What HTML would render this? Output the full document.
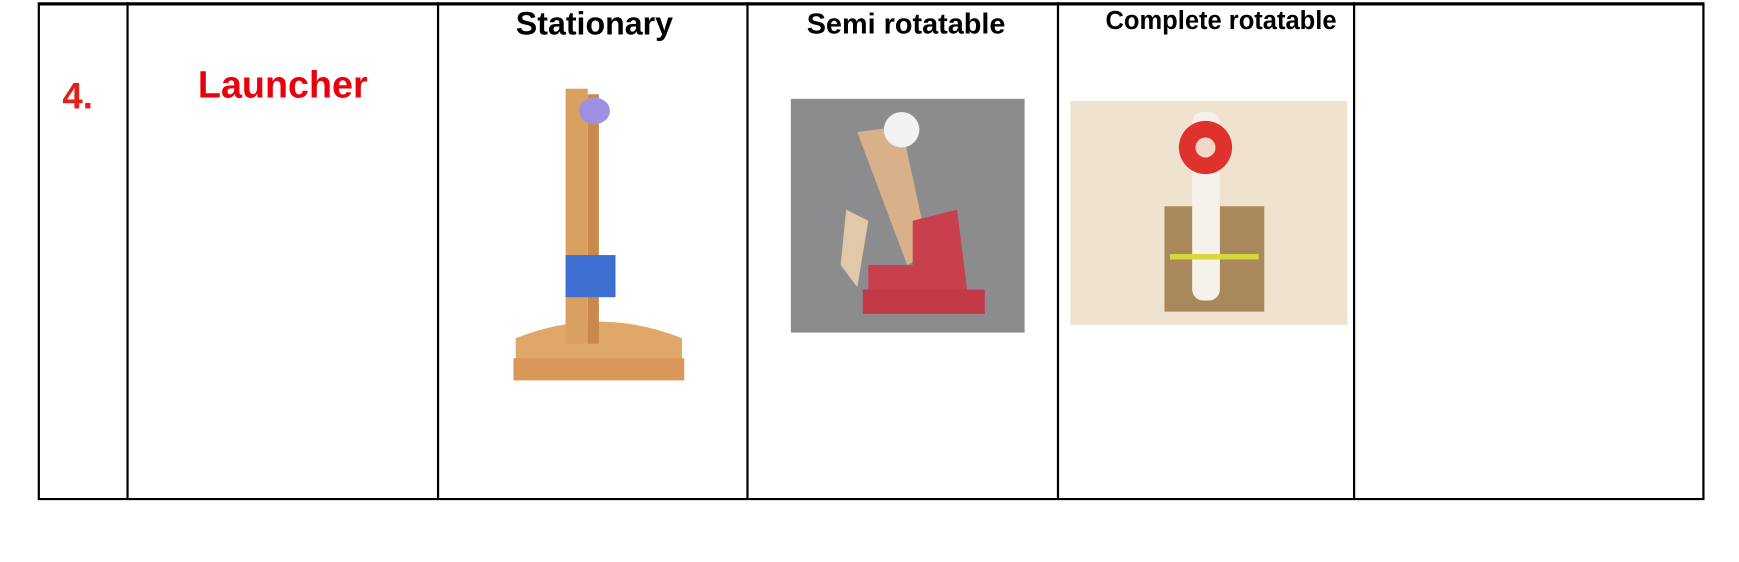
<!DOCTYPE html>
<html><head><meta charset="utf-8"><style>
body{margin:0;width:1739px;height:562px;background:#fff;position:relative;overflow:hidden;font-family:"Liberation Sans",sans-serif}
#w{position:absolute;left:0;top:0;width:1568px;height:507px;transform:scale(1.109);transform-origin:0 0}
.a{position:absolute}
.v{position:absolute;top:2px;height:447px;width:2px;background:#000}
.t{position:absolute;font-weight:bold;white-space:nowrap;transform:translateX(-50%)}
</style></head><body><div id="w">
<div class="a" style="left:34px;top:2px;width:1499px;height:444px;border:2px solid #000;border-top-width:3px"></div>
<div class="v" style="left:114px"></div>
<div class="v" style="left:394px"></div>
<div class="v" style="left:673px"></div>
<div class="v" style="left:953px"></div>
<div class="v" style="left:1220px"></div>
<div class="t" style="left:70px;top:68px;font-size:33px;color:#e0201c">4.</div>
<div class="t" style="left:255px;top:58px;font-size:34px;color:#e8000b">Launcher</div>
<div class="t" style="left:536px;top:6px;font-size:29px">Stationary</div>
<div class="t" style="left:817px;top:6px;font-size:26px">Semi rotatable</div>
<div class="t" style="left:1101px;top:5px;font-size:23px">Complete rotatable</div>

<svg class="a" style="left:455px;top:75px" width="170" height="285">
<path d="M10 230 Q85 200 160 230 L160 250 L10 250Z" fill="#e0a868"/>
<rect x="8" y="248" width="154" height="20" fill="#d9985a"/>
<rect x="55" y="5" width="20" height="230" fill="#d9a060"/>
<rect x="75" y="10" width="10" height="225" fill="#c88a4c"/>
<ellipse cx="81" cy="25" rx="14" ry="12" fill="#9f8fe0"/>
<rect x="55" y="155" width="45" height="38" fill="#3f6fd0"/>
</svg>
<svg class="a" style="left:713px;top:89px" width="211" height="211">
<rect width="211" height="211" fill="#8c8c8e"/>
<path d="M60 30 L100 25 L125 140 L105 150Z" fill="#d8b08a"/>
<circle cx="100" cy="28" r="16" fill="#f2f2f2"/>
<path d="M110 110 L150 100 L160 180 L70 180 L70 150 L110 150Z" fill="#c8404e"/>
<rect x="65" y="172" width="110" height="22" fill="#c23a48"/>
<path d="M50 100 L70 110 L60 170 L45 150Z" fill="#e0c8a8"/>
</svg>
<svg class="a" style="left:965px;top:91px" width="250" height="202">
<rect width="250" height="202" fill="#efe3cf"/>
<rect x="85" y="95" width="90" height="95" fill="#a9895c"/>
<rect x="110" y="10" width="25" height="170" rx="10" fill="#f6f2ea"/>
<circle cx="122" cy="42" r="24" fill="#e0322c"/>
<circle cx="122" cy="42" r="9" fill="#f3d8c8"/>
<rect x="90" y="138" width="80" height="5" fill="#d8d83a"/>
</svg>
</div></body></html>
